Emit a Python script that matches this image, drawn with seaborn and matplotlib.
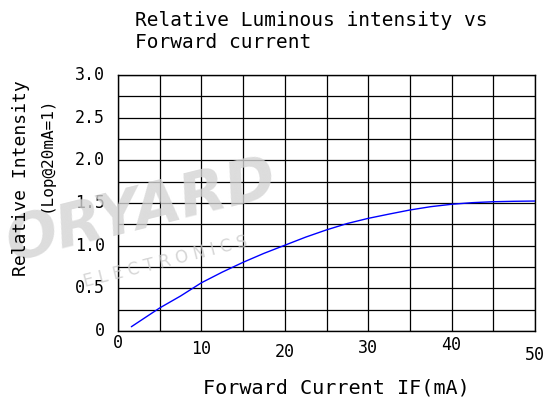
import numpy as np
import pandas as pd
import seaborn as sns
import matplotlib.pyplot as plt

# values
current_ma = [1.6, 5, 7.5, 10, 12.5, 15, 17.5, 20, 22.5, 25, 27.5, 30,
              32.5, 35, 37.5, 40, 42.5, 45, 47.5, 50]
rel_intensity = [0.05, 0.27, 0.41, 0.565, 0.69, 0.805, 0.91, 1.005, 1.1,
                 1.185, 1.26, 1.32, 1.37, 1.418, 1.457, 1.485, 1.504,
                 1.515, 1.52, 1.523]
x_ticks = [0, 10, 20, 30, 40, 50]
y_ticks = [0, 0.5, 1.0, 1.5, 2.0, 2.5, 3.0]
y_tick_labels = ["0", "0.5", "1.0", "1.5", "2.0", "2.5", "3.0"]

df = pd.DataFrame({"IF": current_ma, "Iv": rel_intensity})

sns.set_style("white")
plt.rcParams['font.family'] = ['DejaVu Sans Mono', 'DejaVu Sans']
plt.rcParams['text.color'] = 'black'

fig = plt.figure(figsize=(5.55, 4.04), dpi=100)
ax = fig.add_axes([118 / 555, 1 - 331 / 404, 417 / 555, 256 / 404])

# fine grid like the datasheet
for gx in np.arange(0, 51, 5):
    ax.axvline(gx, color="black", lw=0.9, zorder=1)
for gy in np.arange(0, 3.01, 0.25):
    ax.axhline(gy, color="black", lw=0.9, zorder=1)

sns.lineplot(data=df, x="IF", y="Iv", ax=ax, color="blue", lw=1.0, zorder=3)

ax.set_xlim(0, 50)
ax.set_ylim(0, 3.0)
for s in ax.spines.values():
    s.set_color("black")
    s.set_linewidth(1.0)

ax.set_xticks([])
ax.set_yticks([])
ax.set_xlabel("")
ax.set_ylabel("")

tfont = dict(fontsize=12, color="black")

# y tick labels
for v, lab in zip(y_ticks, y_tick_labels):
    ax.text(-1.6, v, lab, ha="right", va="center",
            transform=ax.transData, clip_on=False, **tfont)

# x tick labels (staggered like the original)
x_offsets = [12, 18, 21, 17, 14, 24]
for v, off in zip(x_ticks, x_offsets):
    ax.annotate(str(v), xy=(v, 0), xycoords="data", xytext=(0, -off),
                textcoords="offset pixels", ha="center", va="center",
                annotation_clip=False, **tfont)

fig.text(135 / 555, 1 - 20 / 404, "Relative Luminous intensity vs",
         ha="left", va="center", fontsize=14)
fig.text(135 / 555, 1 - 43 / 404, "Forward current",
         ha="left", va="center", fontsize=14)
fig.text(336 / 555, 1 - 388 / 404, "Forward Current IF(mA)",
         ha="center", va="center", fontsize=14.5)
fig.text(21 / 555, 1 - 178 / 404, "Relative Intensity", rotation=90,
         ha="center", va="center", fontsize=13)
fig.text(46 / 555, 1 - 154 / 404, "(Lop@20mA=1)", rotation=90,
         ha="center", va="center", fontsize=11.5)

# faint watermark
fig.text(142 / 555, 1 - 212 / 404, "ORYARD", rotation=14, ha="center",
         va="center", fontsize=44, fontweight="bold", family="DejaVu Sans",
         style="italic", color="#d4d4d4", alpha=0.8, zorder=0)
fig.text(165 / 555, 1 - 262 / 404, "E L E C T R O N I C S", rotation=14,
         ha="center", va="center", fontsize=12, family="DejaVu Sans",
         color="#cccccc", alpha=0.8, zorder=0)

fig.savefig("out.png", dpi=100)
